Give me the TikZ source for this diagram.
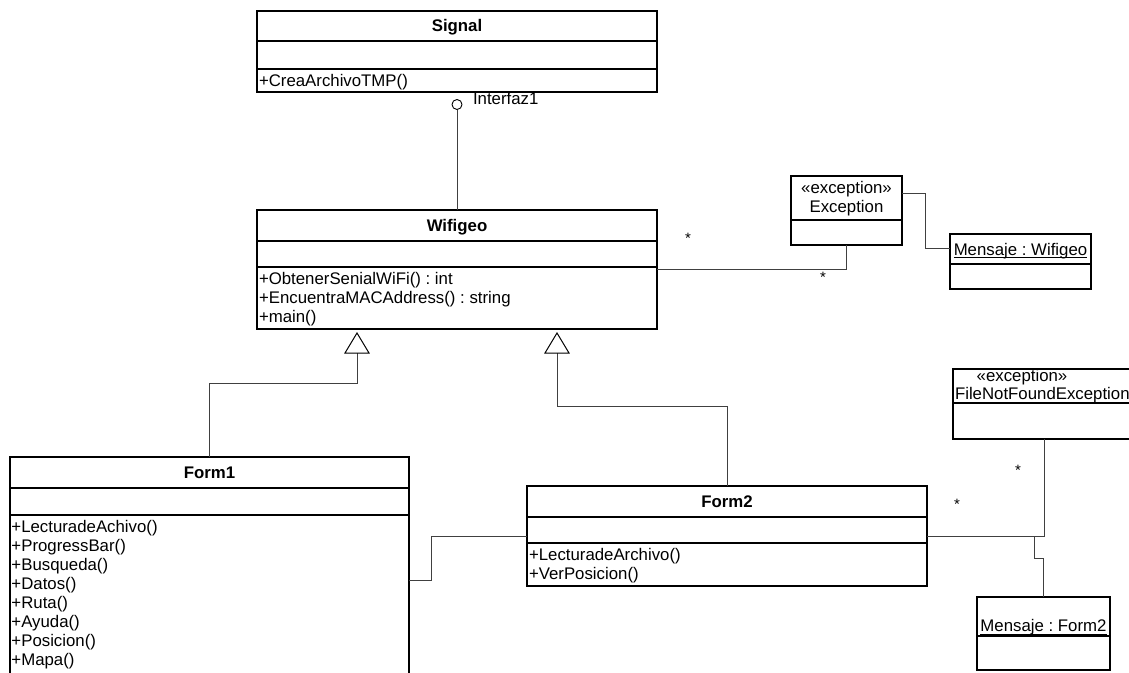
\documentclass[tikz,border=0pt]{standalone}
\usepackage{fontspec}
\setmainfont{Liberation Sans}
\usetikzlibrary{calc}
\frenchspacing
\begin{document}
\begin{tikzpicture}[x=1pt,y=-1pt,
  every node/.style={inner sep=0pt, outer sep=0pt, font=\fontsize{16.8}{19.2}\selectfont},
  classbox/.style={draw=black, line width=1.3pt, rectangle},
  divider/.style={draw=black, line width=1.3pt},
  link/.style={draw=black!75, line width=1pt},
  title/.style={anchor=base, font=\fontsize{16.8}{19.2}\selectfont\bfseries},
  member/.style={anchor=base west},
  label/.style={anchor=base},
  mult/.style={anchor=center, font=\fontsize{15}{18}\selectfont},
  genarrow/.style={draw=black, line width=1pt, fill=white}
]
\useasboundingbox (0,0) rectangle (1129,672);

% ---- class boxes ----
\node[classbox, minimum width=400pt, minimum height=81pt]  (signal)  at (457,51.5) {};
\node[classbox, minimum width=400pt, minimum height=119pt] (wifigeo) at (457,269.5) {};
\node[classbox, minimum width=399pt, minimum height=246pt] (form1)   at (209.5,580) {};
\node[classbox, minimum width=400pt, minimum height=100pt] (form2)   at (727,536) {};
\node[classbox, minimum width=111pt, minimum height=69pt]  (exc)     at (846.5,210.5) {};
\node[classbox, minimum width=141pt, minimum height=55pt]  (mwifi)   at (1020.5,261.5) {};
\node[classbox, minimum width=182pt, minimum height=70pt]  (fnf)     at (1044,404) {};
\node[classbox, minimum width=133pt, minimum height=73pt]  (mform2)  at (1043.5,633.5) {};

% ---- compartment dividers ----
\draw[divider] (signal.west |- 0,41)  -- (signal.east |- 0,41);
\draw[divider] (signal.west |- 0,69)  -- (signal.east |- 0,69);
\draw[divider] (wifigeo.west |- 0,241) -- (wifigeo.east |- 0,241);
\draw[divider] (wifigeo.west |- 0,267) -- (wifigeo.east |- 0,267);
\draw[divider] (form1.west |- 0,488) -- (form1.east |- 0,488);
\draw[divider] (form1.west |- 0,515) -- (form1.east |- 0,515);
\draw[divider] (form2.west |- 0,517) -- (form2.east |- 0,517);
\draw[divider] (form2.west |- 0,543) -- (form2.east |- 0,543);
\draw[divider] (exc.west |- 0,220) -- (exc.east |- 0,220);
\draw[divider] (mwifi.west |- 0,264) -- (mwifi.east |- 0,264);
\draw[divider] (fnf.west |- 0,403) -- (fnf.east |- 0,403);
\draw[divider] (mform2.west |- 0,636) -- (mform2.east |- 0,636);

% ---- Signal ----
\node[title]  (signalT)  at (457,31) {Signal};
\node[member] (signalM1) at (259,86) {+CreaArchivoTMP()};

% ---- provided interface ----
\node[draw=black, line width=0.9pt, circle, minimum size=10pt, fill=white] (iface) at (457,104.5) {};
\node[member] (ifaceL) at (473,104) {Interfaz1};
\draw[link] (iface.south) -- (wifigeo.north);

% ---- Wifigeo ----
\node[title]  (wifigeoT)  at (457,231) {Wifigeo};
\node[member] (wifigeoM1) at (259,284)   {+ObtenerSenialWiFi() : int};
\node[member] (wifigeoM2) at (259,303.2) {+EncuentraMACAddress() : string};
\node[member] (wifigeoM3) at (259,322.4) {+main()};

% ---- Form1 ----
\node[title] (form1T) at (209.5,478) {Form1};
\foreach \t [count=\i] in {+LecturadeAchivo(),+ProgressBar(),+Busqueda(),+Datos(),+Ruta(),+Ayuda(),+Posicion(),+Mapa()}
  \node[member] (form1M\i) at (11.5,{532+19.1*(\i-1)}) {\t};

% ---- Form2 ----
\node[title]  (form2T)  at (727,507) {Form2};
\node[member] (form2M1) at (529,560)   {+LecturadeArchivo()};
\node[member] (form2M2) at (529,579.2) {+VerPosicion()};

% ---- exceptions and message objects ----
\node[label] (excS) at (846.5,193) {«exception»};
\node[label] (excN) at (846.5,212) {Exception};
\node[label] (mwifiN) at (1020.5,255) {Mensaje : Wifigeo};
\draw[line width=0.8pt] ([yshift=-2.5pt]mwifiN.base west) -- ([yshift=-2.5pt]mwifiN.base east);
\node[label]  (fnfS) at (1022,381) {«exception»};
\node[member] (fnfN) at (955,399.3)  {FileNotFoundException};
\node[label] (mform2N) at (1043.5,631.5) {Mensaje : Form2};
\draw[line width=0.8pt] ([yshift=-2.5pt]mform2N.base west) -- ([yshift=-2.5pt]mform2N.base east);

% ---- generalizations ----
\coordinate (g1) at ([xshift=-100pt]wifigeo.south);
\coordinate (g2) at ([xshift=100pt]wifigeo.south);
\draw[link] (form1.north) |- ($(g1)+(0,54)$) -- ($(g1)+(0,20)$);
\draw[link] (form2.north) |- ($(g2)+(0,77)$) -- ($(g2)+(0,20)$);
\draw[genarrow] ($(g1)+(0,4)$) -- ++(-12,20) -- ++(24,0) -- cycle;
\draw[genarrow] ($(g2)+(0,4)$) -- ++(-12,20) -- ++(24,0) -- cycle;

% ---- associations ----
\draw[link] (wifigeo.east) -| (exc.south);
\draw[link] ([yshift=17.5pt]exc.east) -- ++(23,0) |- ([yshift=13.5pt]mwifi.west);
\draw[link] (form1.east) -- ++(22,0) |- (form2.west);
\draw[link] (form2.east) -| (fnf.south);
\draw[link] ($(form2.east)+(107,0)$) -- ++(0,22) -| (mform2.north);

% ---- multiplicities ----
\node[mult] (m1) at (688,238) {*};
\node[mult] (m2) at (823,277) {*};
\node[mult] (m3) at (1018,470) {*};
\node[mult] (m4) at (957,504) {*};
\end{tikzpicture}
\end{document}
